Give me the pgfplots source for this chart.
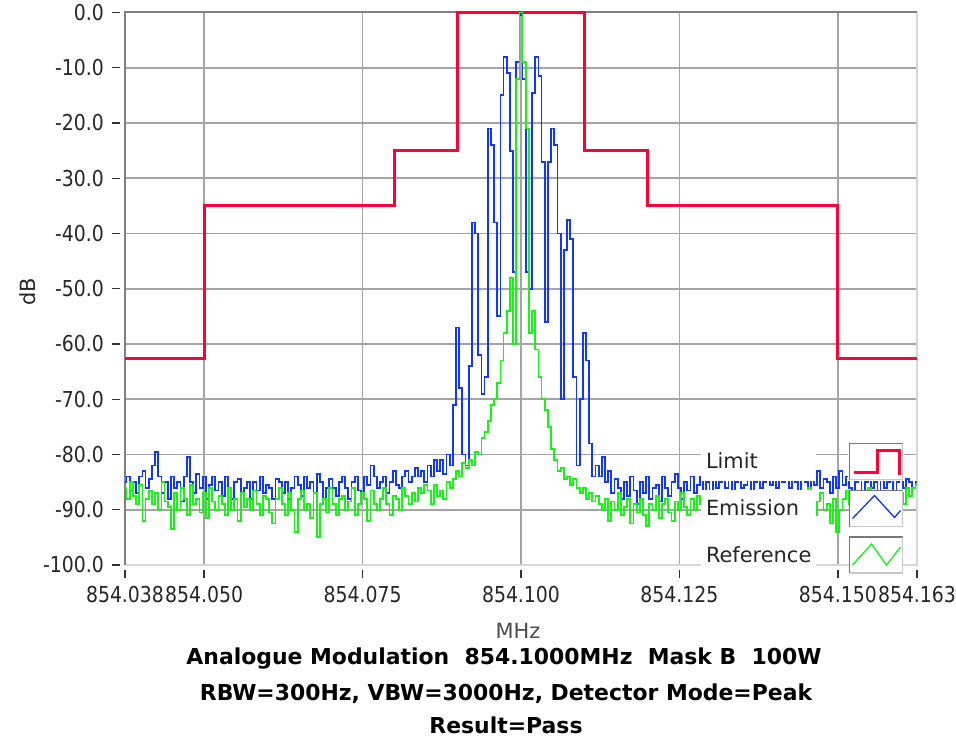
\documentclass[border=0pt]{standalone}
\usepackage{fontspec}
\setmainfont{DejaVu Sans}
\newfontfamily\tickfont{DejaVu Sans}[FakeStretch=0.86]
\usepackage{pgfplots}
\usepackage{pgfplotstable}
\pgfplotsset{compat=1.18}
\definecolor{limitred}{RGB}{255,0,56}
\definecolor{emisblue}{RGB}{15,55,255}
\definecolor{refgreen}{RGB}{20,245,20}
\definecolor{gridgray}{RGB}{165,165,165}
\definecolor{darkborder}{RGB}{128,128,128}
\definecolor{lightborder}{RGB}{215,215,215}
\definecolor{legdark}{RGB}{120,120,120}
\definecolor{leglight}{RGB}{200,200,200}

\pgfplotsset{
  limitimg/.style={legend image code/.code={
    \fill[white] (0bp,-18bp) rectangle (53bp,18bp);
    \draw[legdark, line width=1.5bp] (0bp,-18bp) -- (0bp,18bp) -- (53bp,18bp);
    \draw[leglight, line width=1.5bp] (53bp,18bp) -- (53bp,-18bp) -- (0bp,-18bp);
    \draw[limitred, line width=3bp] (4bp,-11bp) -- (28bp,-11bp) -- (28bp,11bp) -- (50bp,11bp) -- (50bp,-13bp);
  }},
  emisimg/.style={legend image code/.code={
    \fill[white] (0bp,-18bp) rectangle (53bp,18bp);
    \draw[legdark, line width=1.5bp] (0bp,-18bp) -- (0bp,18bp) -- (53bp,18bp);
    \draw[leglight, line width=1.5bp] (53bp,18bp) -- (53bp,-18bp) -- (0bp,-18bp);
    \draw[emisblue, line width=1.3bp] (3bp,-10bp) -- (25bp,13bp) -- (45bp,-9bp) -- (51bp,-2bp);
  }},
  refimg/.style={legend image code/.code={
    \fill[white] (0bp,-18bp) rectangle (53bp,18bp);
    \draw[legdark, line width=1.5bp] (0bp,-18bp) -- (0bp,18bp) -- (53bp,18bp);
    \draw[leglight, line width=1.5bp] (53bp,18bp) -- (53bp,-18bp) -- (0bp,-18bp);
    \draw[refgreen, line width=1.3bp] (3bp,-10bp) -- (22bp,11bp) -- (37bp,-10bp) -- (51bp,8bp);
  }},
}

% x: offset from 854.1000 MHz in kHz; E: Emission (dB); R: Reference (dB)
\pgfplotstableread{
x E R
-62.5 -85 -86
-62.0 -84 -88
-61.5 -86.5 -85
-61.0 -85 -87.5
-60.5 -87 -89
-60.0 -84 -85.5
-59.5 -83 -92
-59.0 -86 -88
-58.5 -84.5 -86.5
-58.0 -82 -89
-57.5 -79.5 -87
-57.0 -84 -90
-56.5 -87 -85
-56.0 -85 -88.5
-55.5 -88 -89.5
-55.0 -84 -93.5
-54.5 -86 -87
-54.0 -85 -90
-53.5 -88.5 -86
-53.0 -84 -88
-52.5 -80.5 -91
-52.0 -85 -85.5
-51.5 -87 -89
-51.0 -83.5 -88
-50.5 -86 -90.5
-50.0 -84 -87
-49.5 -88 -91.5
-49.0 -85.5 -86
-48.5 -84 -88.5
-48.0 -86.5 -90
-47.5 -85 -87.5
-47.0 -87.5 -89
-46.5 -84 -91
-46.0 -86 -86
-45.5 -88 -90
-45.0 -85 -88
-44.5 -84.5 -92
-44.0 -87 -87
-43.5 -86 -89.5
-43.0 -85 -88
-42.5 -88 -90
-42.0 -85 -86.5
-41.5 -86.5 -89
-41.0 -84 -91
-40.5 -87 -87.5
-40.0 -85.5 -88
-39.5 -86 -90.5
-39.0 -88 -92.5
-38.5 -84.5 -88
-38.0 -85 -86
-37.5 -87 -89
-37.0 -85 -91
-36.5 -88 -87
-36.0 -86 -90
-35.5 -84 -94
-35.0 -85.5 -88
-34.5 -87.5 -86.5
-34.0 -84 -90
-33.5 -86 -89
-33.0 -85 -91.5
-32.5 -87 -87
-32.0 -83.5 -95
-31.5 -85 -89
-31.0 -88 -88
-30.5 -86 -90.5
-30.0 -84.5 -86
-29.5 -86 -89
-29.0 -87.5 -91
-28.5 -85 -88
-28.0 -84 -87.5
-27.5 -86 -90
-27.0 -88 -88.5
-26.5 -85 -86
-26.0 -84 -91
-25.5 -86.5 -89
-25.0 -87 -87
-24.5 -84 -88
-24.0 -85.5 -92
-23.5 -82 -86.5
-23.0 -84 -89
-22.5 -86 -90
-22.0 -85 -88
-21.5 -84 -86
-21.0 -87 -89
-20.5 -85 -91
-20.0 -83 -87.5
-19.5 -85.5 -88
-19.0 -86 -90
-18.5 -84 -86
-18.0 -83 -87.5
-17.5 -85 -89
-17.0 -84 -87
-16.5 -82.5 -88.5
-16.0 -84 -86
-15.5 -83 -87
-15.0 -85 -85.5
-14.5 -82 -86.5
-14.0 -84 -89
-13.5 -81 -85.5
-13.0 -83 -87.5
-12.5 -81 -86.5
-12.0 -83.5 -88
-11.5 -80 -85
-11.0 -82 -86
-10.5 -71 -84.5
-10.0 -57 -83
-9.5 -68 -84
-9.0 -80 -81.5
-8.5 -82 -82.5
-8.0 -64 -81
-7.5 -38 -82
-7.0 -40 -79.5
-6.5 -62 -80
-6.0 -69 -77
-5.5 -66 -76
-5.0 -21 -74
-4.5 -24 -71
-4.0 -38 -70
-3.5 -55 -67
-3.0 -15 -63
-2.5 -8 -58
-2.0 -11 -54
-1.5 -25 -48
-1.0 -47 -60
-0.5 -9 -12
0.0 -0.5 0
0.5 -12 -9
1.0 -47 -21
1.5 -50 -58
2.0 -14.5 -54
2.5 -8 -61
3.0 -11.5 -66
3.5 -27 -70
4.0 -56 -72
4.5 -27 -75
5.0 -21 -79
5.5 -24 -81
6.0 -40 -83
6.5 -70 -82.5
7.0 -43 -84.5
7.5 -37.5 -84
8.0 -41 -85.5
8.5 -66 -84.5
9.0 -82 -86
9.5 -70 -87
10.0 -58 -86
10.5 -63 -88
11.0 -78 -87
11.5 -84 -88.5
12.0 -82 -87.5
12.5 -84 -89
13.0 -80.5 -90
13.5 -85 -88
14.0 -83 -92
14.5 -87 -88.5
15.0 -84.5 -90
15.5 -86 -87
16.0 -88 -91
16.5 -85 -89.5
17.0 -87.5 -88
17.5 -84 -92.5
18.0 -86.5 -89
18.5 -89 -90.5
19.0 -85 -88
19.5 -87 -91
20.0 -84 -93
20.5 -88 -89
21.0 -86 -90
21.5 -85.5 -87.5
22.0 -88.5 -91.5
22.5 -84 -89
23.0 -86 -88
23.5 -87.5 -90.5
24.0 -85 -92
24.5 -83.5 -88.5
25.0 -86 -90
25.5 -88 -87
26.0 -85 -89.5
26.5 -86.5 -91
27.0 -84 -88
27.5 -87 -90
28.0 -85.5 -87.5
28.5 -84 -89
29.0 -86.5 -91.5
29.5 -85 -88
30.0 -87 -90
30.5 -84.5 -86.5
31.0 -86 -89
31.5 -85 -90.5
32.0 -83.5 -88
32.5 -86 -87
33.0 -84.5 -89.5
33.5 -87 -91
34.0 -85 -88
34.5 -84 -90
35.0 -86 -87
35.5 -85.5 -89
36.0 -84 -88.5
36.5 -86.5 -90.5
37.0 -85 -87
37.5 -84 -89
38.0 -86 -91
38.5 -85 -88
39.0 -83 -86.5
39.5 -85.5 -90
40.0 -84 -88
40.5 -86 -89.5
41.0 -84.5 -87
41.5 -85 -90
42.0 -83.5 -88.5
42.5 -86 -91
43.0 -84 -88
43.5 -85 -87
44.0 -87 -89.5
44.5 -84.5 -90
45.0 -85 -88
45.5 -86.5 -86
46.0 -84 -89
46.5 -85.5 -91
47.0 -83 -88.5
47.5 -86 -87
48.0 -84.5 -90
48.5 -85 -89
49.0 -87 -92.5
49.5 -84 -88
50.0 -86 -94
50.5 -83 -90
51.0 -85.5 -88
51.5 -84 -86.5
52.0 -86 -89
52.5 -87 -91
53.0 -85 -88
53.5 -84 -87.5
54.0 -86.5 -90
54.5 -85 -88
55.0 -84 -86
55.5 -86 -89.5
56.0 -85 -91
56.5 -87 -88
57.0 -84.5 -87
57.5 -86 -89
58.0 -85 -90.5
58.5 -84 -88
59.0 -86.5 -86.5
59.5 -85 -88
60.0 -83 -87
60.5 -86 -89
61.0 -84.5 -86
61.5 -85 -87.5
62.0 -86 -86
62.5 -85 -85.5
}\spectrum

\begin{document}
\begin{tikzpicture}
\useasboundingbox (-125bp,-175bp) rectangle (831bp,565bp);
\begin{axis}[
  scale only axis, width=792bp, height=552.5bp,
  at={(0,0)}, anchor=south west,
  xmin=-62.5, xmax=62.5, ymin=-100, ymax=0,
  axis line style={draw=none},
  clip=false,
  xtick={-50,-25,0,25,50},
  xticklabels={854.050,854.075,854.100,854.125,854.150},
  extra x ticks={-62.5,62.5},
  extra x tick labels={854.038,854.163},
  extra x tick style={grid=none},
  ytick={-90,-80,-70,-60,-50,-40,-30,-20,-10,0},
  yticklabels={-90.0,-80.0,-70.0,-60.0,-50.0,-40.0,-30.0,-20.0,-10.0,0.0},
  extra y ticks={-100},
  extra y tick labels={-100.0},
  extra y tick style={grid=none},
  grid=major,
  major grid style={draw=gridgray, line width=1.6bp},
  tick pos=left, tick align=outside,
  major tick length=8bp,
  tick style={color=black!80, line width=1.4bp},
  xtick style={yshift=-5bp},
  ytick style={xshift=-5bp},
  xticklabel style={font=\tickfont\fontsize{22}{26}\selectfont, text=black!85, anchor=base, inner sep=0pt, yshift=-29bp},
  yticklabel style={font=\tickfont\fontsize{22}{26}\selectfont, text=black!85, anchor=east, inner sep=0pt, xshift=-13bp},
  xlabel={MHz},
  xlabel style={at={(axis description cs:0.4962,0)}, anchor=base, yshift=-73bp, font=\fontsize{21}{25}\selectfont, text=black!70},
  ylabel={dB},
  ylabel style={at={(axis description cs:-0.1225,0.494)}, anchor=center, font=\fontsize{21}{25}\selectfont, text=black!85},
  legend style={at={(0.9836,0.2226)}, anchor=north east, draw=none, fill=none,
    inner sep=0pt, outer sep=0pt, row sep=8.5bp, column sep=32bp,
    nodes={fill=white, text width=105bp, minimum height=38bp, inner xsep=5bp, inner ysep=0pt,
      font=\fontsize{21}{25}\selectfont, text=black!85}},
  legend plot pos=right,
  legend cell align=left,
]
\draw[lightborder, line width=2bp] (rel axis cs:1,1) -- (rel axis cs:1,0) -- (rel axis cs:0,0);
\draw[darkborder, line width=2bp] (rel axis cs:0,0) -- (rel axis cs:0,1) -- (rel axis cs:1,1);

\addplot[limitred, line width=3bp, const plot, limitimg] coordinates {
  (-62.5,-62.7) (-50,-35) (-20,-25) (-10,0) (10,-25) (20,-35) (50,-62.7) (62.5,-62.7)
};
\addlegendentry{Limit}
\addplot[emisblue, line width=1.8bp, const plot mark mid, emisimg] table[x=x, y=E] {\spectrum};
\addlegendentry{Emission}
\addplot[refgreen, line width=1.8bp, const plot mark mid, refimg] table[x=x, y=R] {\spectrum};
\addlegendentry{Reference}
\end{axis}
\node[anchor=base, font=\bfseries\fontsize{22}{26}\selectfont] at (379bp,-99.3bp) {Analogue Modulation\ \ 854.1000MHz\ \ Mask B\ \ 100W};
\node[anchor=base, font=\bfseries\fontsize{22}{26}\selectfont] at (381bp,-135bp) {RBW=300Hz, VBW=3000Hz, Detector Mode=Peak};
\node[anchor=base, font=\bfseries\fontsize{22}{26}\selectfont] at (381bp,-168.3bp) {Result=Pass};
\end{tikzpicture}
\end{document}
